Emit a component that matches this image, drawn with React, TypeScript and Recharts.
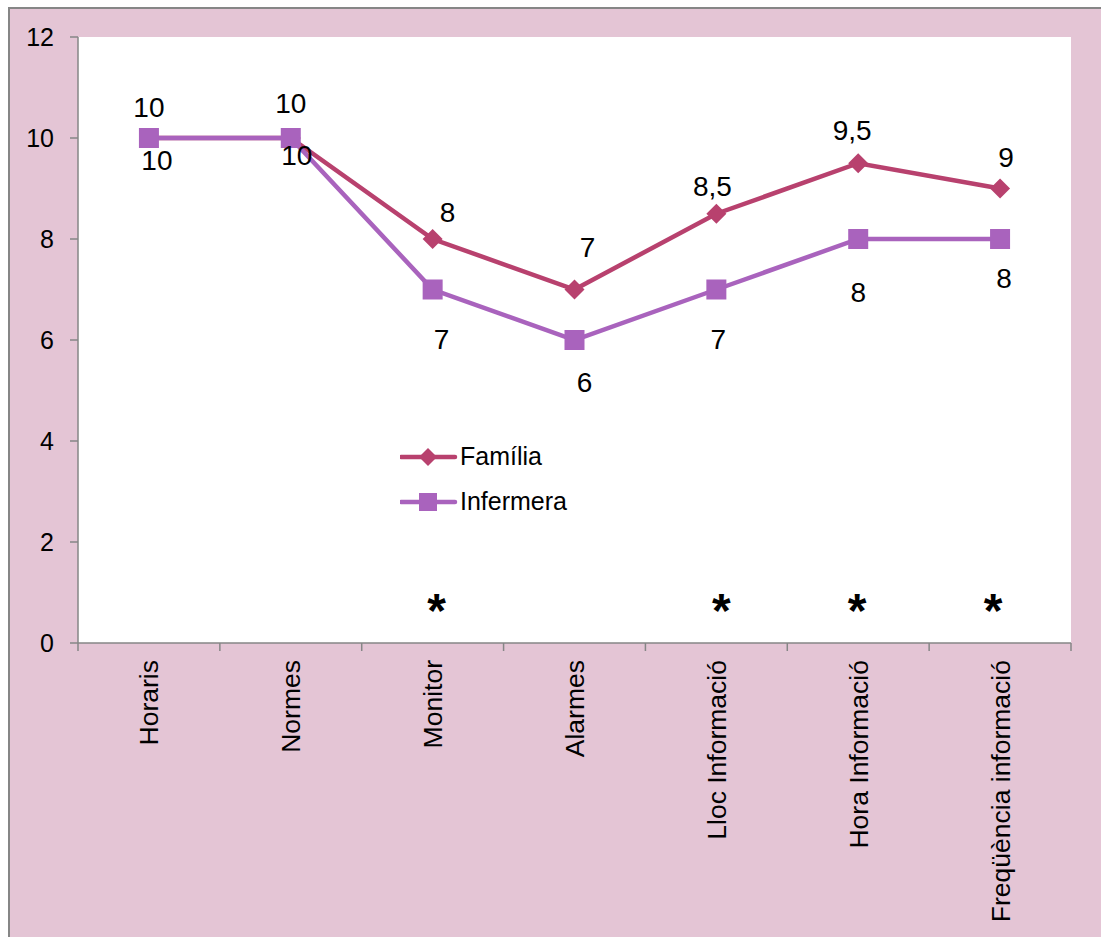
import React from 'react';
import {
  LineChart,
  Line,
  XAxis,
  YAxis,
  Legend,
  LabelList,
  ReferenceDot,
  CartesianGrid,
} from 'recharts';

// Survey scores: family members vs. nurses, per topic
const categories = [
  'Horaris',
  'Normes',
  'Monitor',
  'Alarmes',
  'Lloc Informació',
  'Hora Informació',
  'Freqüència informació',
];
const familia = [10, 10, 8, 7, 8.5, 9.5, 9];
const infermera = [10, 10, 7, 6, 7, 8, 8];
// topics with a significant difference (marked with an asterisk)
const significant = [false, false, true, false, true, true, true];
const yTicks = [0, 2, 4, 6, 8, 10, 12];
const boundaryTicks = [0, 1, 2, 3, 4, 5, 6, 7];
const STAR_LEVEL = 0.8;

// label nudges (px) so value labels do not collide with the lines
const familiaLabelNudge: [number, number][] = [
  [0, -31], [0, -35], [15, -27], [13, -42], [-4, -27], [-6, -33], [6, -31],
];
const infermeraLabelNudge: [number, number][] = [
  [8, 22], [6, 17], [9, 50], [10, 42], [2, 50], [0, 53], [4, 39],
];
const starNudge = [0, 0, 4, 0, 5, -1, -7];

const FAMILIA_COLOR = '#B8416E';
const INFERMERA_COLOR = '#A963BD';
const AXIS_COLOR = '#868686';
const FONT = '"Liberation Sans", Arial, sans-serif';

const CHART_W = 1093;
const CHART_H = 930;
const MARGIN = { top: 30, right: 30, bottom: 0, left: 0 };
const Y_AXIS_W = 70;
const X_AXIS_H = 294;

const data = categories.map((name, i) => ({
  name,
  pos: i + 0.5,
  familia: familia[i],
  infermera: infermera[i],
}));

const fmt = (v: number) => String(v).replace('.', ',');

const Diamond = (props: any) => {
  const { cx, cy } = props;
  if (cx == null || cy == null) return null;
  const r = 10;
  return (
    <polygon
      points={`${cx},${cy - r} ${cx + r},${cy} ${cx},${cy + r} ${cx - r},${cy}`}
      fill={FAMILIA_COLOR}
    />
  );
};

const Square = (props: any) => {
  const { cx, cy } = props;
  if (cx == null || cy == null) return null;
  const h = 10;
  return <rect x={cx - h} y={cy - h} width={2 * h} height={2 * h} fill={INFERMERA_COLOR} />;
};

const makeValueLabel = (nudge: [number, number][]) => (props: any) => {
  const { x, y, value, index } = props;
  const [dx, dy] = nudge[index] || [0, 0];
  return (
    <text
      x={x + dx}
      y={y + dy}
      textAnchor="middle"
      dominantBaseline="central"
      fontFamily={FONT}
      fontSize={28}
      fill="#000"
    >
      {fmt(value)}
    </text>
  );
};

const CategoryTick = (props: any) => {
  const { x, y, payload, width } = props;
  const idx = payload.value as number;
  if (idx >= categories.length) return null;
  const plotW = typeof width === 'number' ? width : CHART_W - MARGIN.left - MARGIN.right - Y_AXIS_W;
  const cx = x + plotW / categories.length / 2;
  const top = y + 7;
  return (
    <text
      x={cx}
      y={top}
      dy="0.36em"
      transform={`rotate(-90, ${cx}, ${top})`}
      textAnchor="end"
      fontFamily={FONT}
      fontSize={26.5}
      fill="#000"
    >
      {categories[idx]}
    </text>
  );
};

const makeStar = (dx: number) => (props: any) => {
  const { cx, cy } = props;
  if (cx == null || cy == null) return null;
  return (
    <text
      x={cx + dx}
      y={cy + 24}
      textAnchor="middle"
      fontFamily={FONT}
      fontWeight="bold"
      fontSize={48}
      fill="#000"
    >
      *
    </text>
  );
};

const LegendContent = (props: any) => {
  const items = props.payload || [];
  return (
    <div style={{ fontFamily: FONT }}>
      {items.map((item: any) => {
        const isFam = item.dataKey === 'familia';
        const color = item.color;
        return (
          <div
            key={item.dataKey}
            style={{ display: 'flex', alignItems: 'center', height: 45 }}
          >
            <svg width={58} height={24} style={{ display: 'block' }}>
              <line x1={1} y1={12} x2={55} y2={12} stroke={color} strokeWidth={4.5} strokeLinecap="round" />
              {isFam ? (
                <polygon points="28,3 37,12 28,21 19,12" fill={color} />
              ) : (
                <rect x={19} y={3} width={18} height={18} fill={color} />
              )}
            </svg>
            <span style={{ fontSize: 25, color: '#000', marginLeft: 2 }}>{item.value}</span>
          </div>
        );
      })}
    </div>
  );
};

export default function App() {
  return (
    <div
      style={{
        position: 'absolute',
        left: 8,
        top: 7,
        width: CHART_W,
        height: CHART_H,
        background: '#E4C5D5',
        boxShadow: `inset 2px 2px 0 ${AXIS_COLOR}`,
        overflow: 'hidden',
      }}
    >
      <LineChart width={CHART_W} height={CHART_H} data={data} margin={MARGIN}>
        <CartesianGrid horizontal={false} vertical={false} fill="#FFFFFF" />
        <XAxis
          type="number"
          dataKey="pos"
          domain={[0, 7]}
          ticks={boundaryTicks}
          interval={0}
          height={X_AXIS_H}
          tickSize={8}
          stroke={AXIS_COLOR}
          axisLine={{ stroke: AXIS_COLOR, strokeWidth: 1.5 }}
          tickLine={{ stroke: AXIS_COLOR, strokeWidth: 1.5 }}
          tick={<CategoryTick />}
        />
        <YAxis
          width={Y_AXIS_W}
          domain={[0, 12]}
          ticks={yTicks}
          interval={0}
          tickSize={8}
          tickMargin={16}
          axisLine={{ stroke: AXIS_COLOR, strokeWidth: 1.5 }}
          tickLine={{ stroke: AXIS_COLOR, strokeWidth: 1.5 }}
          tick={{ fill: '#000', fontSize: 25, fontFamily: FONT }}
        />
        <Legend
          layout="vertical"
          align="center"
          verticalAlign="middle"
          content={<LegendContent />}
          wrapperStyle={{ position: 'absolute', left: 392, top: 427, width: 250 }}
        />
        <Line
          dataKey="familia"
          name="Família"
          stroke={FAMILIA_COLOR}
          strokeWidth={4.5}
          dot={<Diamond />}
          activeDot={false}
          isAnimationActive={false}
        >
          <LabelList dataKey="familia" content={makeValueLabel(familiaLabelNudge)} />
        </Line>
        <Line
          dataKey="infermera"
          name="Infermera"
          stroke={INFERMERA_COLOR}
          strokeWidth={4.5}
          dot={<Square />}
          activeDot={false}
          isAnimationActive={false}
        >
          <LabelList dataKey="infermera" content={makeValueLabel(infermeraLabelNudge)} />
        </Line>
        {significant.map((s, i) => {
          if (!s) return null;
          const StarShape = makeStar(starNudge[i]);
          return (
            <ReferenceDot
              key={categories[i]}
              x={i + 0.5}
              y={STAR_LEVEL}
              r={0}
              shape={(p: any) => <StarShape {...p} />}
              ifOverflow="visible"
            />
          );
        })}
      </LineChart>
    </div>
  );
}
